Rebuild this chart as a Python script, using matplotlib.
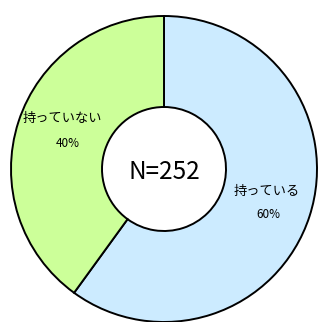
import matplotlib
matplotlib.use("Agg")
import matplotlib.pyplot as plt

plt.rcParams['font.family'] = ['Noto Sans CJK JP', 'DejaVu Sans']

labels = ['持っている', '持っていない']
shares = [60, 40]
total_n = 252
colors = ['#CCEBFF', '#CCFF99']

# label anchor points (pixel space, y up)
label_pos = [(267, 131), (62, 204)]
pct_pos = [(268, 108), (68, 179)]


def main():
    fig = plt.figure(figsize=(3.2, 3.22), dpi=100)
    ax = fig.add_axes([0, 0, 1, 1])

    ax.pie(shares, colors=colors, startangle=90, counterclock=False,
           center=(164, 153), radius=153,
           wedgeprops=dict(width=91, edgecolor='black', linewidth=1.4))

    ax.set_xlim(0, 320)
    ax.set_ylim(0, 322)
    ax.set_aspect('equal')
    ax.axis('off')

    for lab, s, (lx, ly), (px, py) in zip(labels, shares, label_pos, pct_pos):
        ax.text(lx, ly, lab, ha='center', va='center', fontsize=9.5)
        ax.text(px, py, f'{s}%', ha='center', va='center', fontsize=8.5)

    ax.text(164, 150, f'N={total_n}', ha='center', va='center', fontsize=17.5)

    fig.savefig('out.png', dpi=100)


if __name__ == "__main__":
    main()
